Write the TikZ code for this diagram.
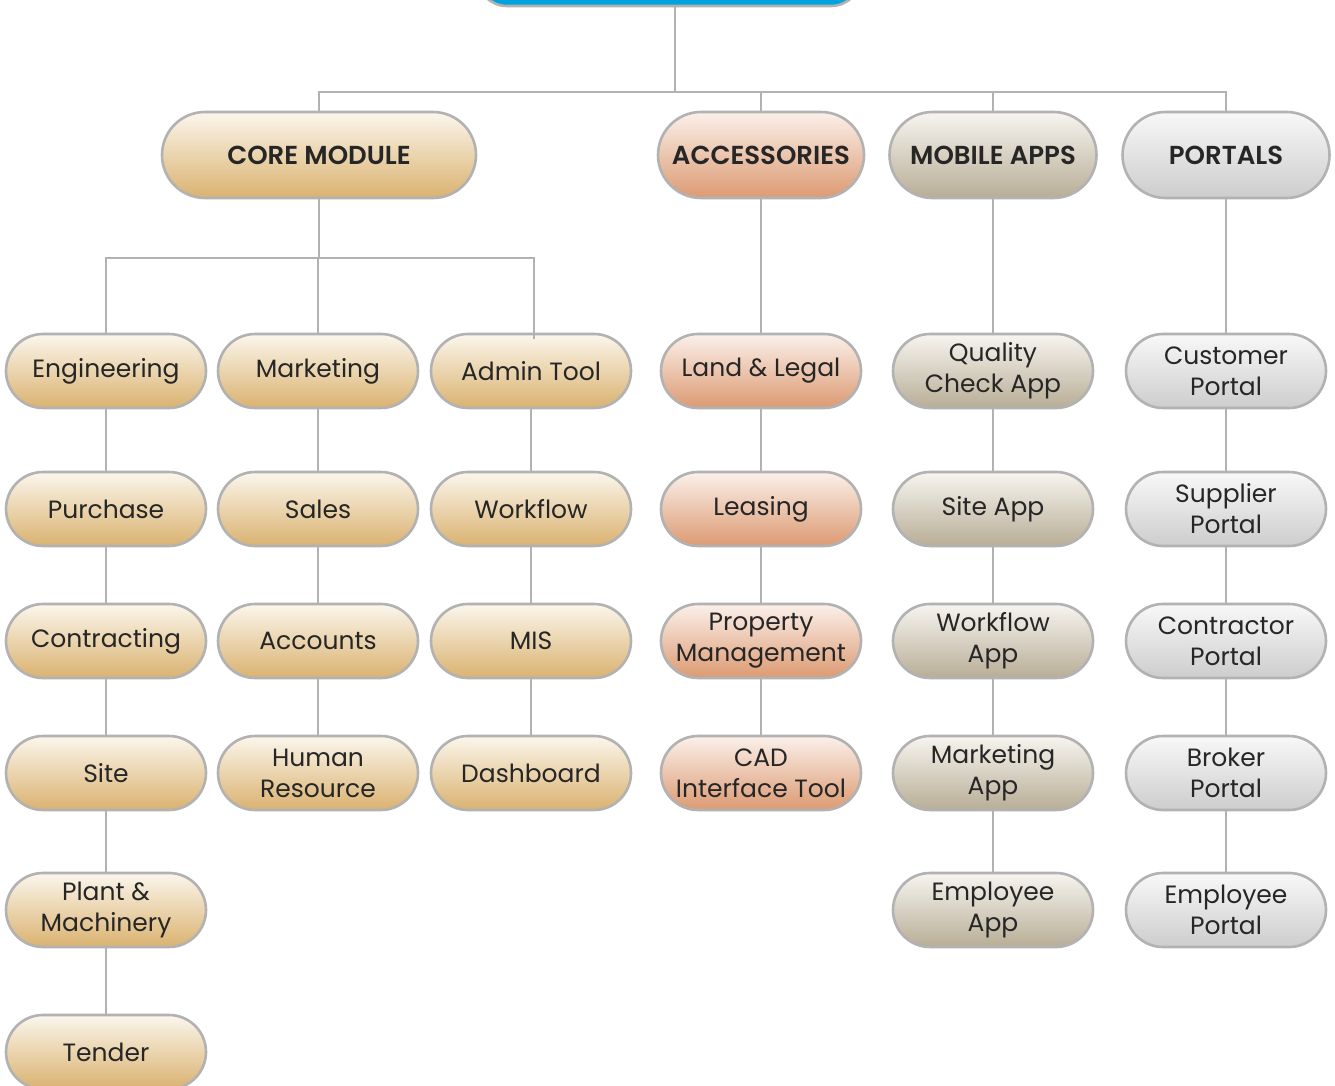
\documentclass[tikz,border=0pt]{standalone}
\usepackage{fontspec}
\setmainfont{Poppins}
\newfontfamily\headfont{Poppins SemiBold}
\begin{document}
\begin{tikzpicture}[x=1pt,y=-1pt,
  conn/.style={draw=black!30,line width=2.6pt},
  pill/.style={draw=black!30,line width=2.6pt,rounded corners=37pt,minimum width=200pt,minimum height=74pt,inner sep=0pt,align=center,text=black!85,font=\fontsize{25}{31}\selectfont},
  head/.style={draw=black!30,line width=2.6pt,rounded corners=43pt,minimum height=86pt,inner sep=0pt,align=center,text=black!85,font=\fontsize{26}{28}\headfont},
  gold/.style={top color=goldT,bottom color=goldB},
  rust/.style={top color=rustT,bottom color=rustB},
  khaki/.style={top color=khakiT,bottom color=khakiB},
  silver/.style={top color=silverT,bottom color=silverB}]
\definecolor{goldT}{HTML}{FBF6EC}\definecolor{goldB}{HTML}{DAB270}
\definecolor{rustT}{HTML}{FBF0EA}\definecolor{rustB}{HTML}{DC9A72}
\definecolor{khakiT}{HTML}{F7F5F0}\definecolor{khakiB}{HTML}{B8AD96}
\definecolor{silverT}{HTML}{F8F8F8}\definecolor{silverB}{HTML}{CDCDCD}
\definecolor{topblue}{HTML}{00A2E0}
\useasboundingbox[fill=white] (0,0) rectangle (1335,1086);
% top node (cut off)
\node[draw=black!30,line width=2.6pt,fill=topblue,rounded corners=30pt,minimum width=384pt,minimum height=72pt] (root) at (669,-30) {};
% heads
\node[head,gold,minimum width=314pt] (core) at (319,155) {CORE MODULE};
\node[head,rust,minimum width=206pt] (acc) at (761,155) {ACCESSORIES};
\node[head,khaki,minimum width=207pt] (mob) at (993,155) {MOBILE APPS};
\node[head,silver,minimum width=207pt] (por) at (1226,155) {PORTALS};
% core column 1
\node[pill,gold] (eng) at (106,371) {Engineering};
\node[pill,gold] (pur) at (106,509) {Purchase};
\node[pill,gold] (con) at (106,641) {Contracting};
\node[pill,gold] (sit) at (106,773) {Site};
\node[pill,gold] (pla) at (106,910) {Plant \&\\Machinery};
\node[pill,gold] (ten) at (106,1052) {Tender};
% core column 2
\node[pill,gold] (mkt) at (318,371) {Marketing};
\node[pill,gold] (sal) at (318,509) {Sales};
\node[pill,gold] (acn) at (318,641) {Accounts};
\node[pill,gold] (hr) at (318,773) {Human\\Resource};
% core column 3
\node[pill,gold] (adm) at (531,371) {Admin Tool};
\node[pill,gold] (wfl) at (531,509) {Workflow};
\node[pill,gold] (mis) at (531,641) {MIS};
\node[pill,gold] (dsh) at (531,773) {Dashboard};
% accessories
\node[pill,rust] (lnd) at (761,371) {Land \& Legal};
\node[pill,rust] (lea) at (761,509) {Leasing};
\node[pill,rust] (prp) at (761,641) {Property\\Management};
\node[pill,rust] (cad) at (761,773) {CAD\\Interface Tool};
% mobile apps
\node[pill,khaki] (qca) at (993,371) {Quality\\Check App};
\node[pill,khaki] (sap) at (993,509) {Site App};
\node[pill,khaki] (wap) at (993,641) {Workflow\\App};
\node[pill,khaki] (map) at (993,773) {Marketing\\App};
\node[pill,khaki] (eap) at (993,910) {Employee\\App};
% portals
\node[pill,silver] (cus) at (1226,371) {Customer\\Portal};
\node[pill,silver] (sup) at (1226,509) {Supplier\\Portal};
\node[pill,silver] (ctr) at (1226,641) {Contractor\\Portal};
\node[pill,silver] (bro) at (1226,773) {Broker\\Portal};
\node[pill,silver] (epo) at (1226,910) {Employee\\Portal};
% connectors top
\coordinate (bar) at (675,92);
\draw[conn] (root.south -| bar) -- (bar);
\draw[conn] (core.north) -- (core.north |- bar) -- (por.north |- bar) -- (por.north);
\draw[conn] (acc.north) -- (acc.north |- bar);
\draw[conn] (mob.north) -- (mob.north |- bar);
% core split
\coordinate (cbar) at (319,258);
\draw[conn] (core.south) -- (cbar);
\draw[conn] (eng.north) -- (eng.north |- cbar) -- ([xshift=3pt]adm.north |- cbar) -- ([xshift=3pt,yshift=-6pt]adm.north);
\draw[conn] (mkt.north) -- (mkt.north |- cbar);
% chains
\draw[conn] (eng) -- (pur); \draw[conn] (pur) -- (con); \draw[conn] (con) -- (sit); \draw[conn] (sit) -- (pla); \draw[conn] (pla) -- (ten);
\draw[conn] (mkt) -- (sal); \draw[conn] (sal) -- (acn); \draw[conn] (acn) -- (hr);
\draw[conn] (adm) -- (wfl); \draw[conn] (wfl) -- (mis); \draw[conn] (mis) -- (dsh);
\draw[conn] (acc) -- (lnd); \draw[conn] (lnd) -- (lea); \draw[conn] (lea) -- (prp); \draw[conn] (prp) -- (cad);
\draw[conn] (mob) -- (qca); \draw[conn] (qca) -- (sap); \draw[conn] (sap) -- (wap); \draw[conn] (wap) -- (map); \draw[conn] (map) -- (eap);
\draw[conn] (por) -- (cus); \draw[conn] (cus) -- (sup); \draw[conn] (sup) -- (ctr); \draw[conn] (ctr) -- (bro); \draw[conn] (bro) -- (epo);
\end{tikzpicture}
\end{document}
